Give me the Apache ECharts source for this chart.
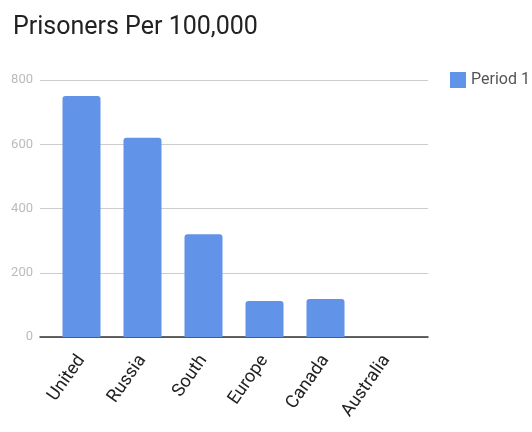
<!DOCTYPE html>
<html>
<head>
<meta charset="utf-8">
<script src="https://cdn.jsdelivr.net/npm/echarts@6/dist/echarts.min.js"></script>
<style>
  html, body { margin: 0; padding: 0; background: #ffffff; }
  #chart { width: 532px; height: 432px; }
</style>
</head>
<body>
<div id="chart"></div>
<script>
// Incarceration rate by country (prisoners per 100,000 people)
const categories = ['United', 'Russia', 'South', 'Europe', 'Canada', 'Australia'];
const period1 = [750, 620, 320, 112, 118, 0];
const yTicks = [0, 200, 400, 600, 800];
const seriesName = 'Period 1';

const yMin = yTicks[0];
const yMax = yTicks[yTicks.length - 1];
const yStep = yTicks[1] - yTicks[0];

const chart = echarts.init(document.getElementById('chart'), null, { renderer: 'canvas' });

chart.setOption({
  animation: false,
  backgroundColor: '#ffffff',
  title: {
    text: 'Prisoners Per 100,000',
    left: 8,
    top: 10,
    textStyle: { fontFamily: 'Roboto', fontSize: 25, fontWeight: 'normal', color: '#222222' }
  },
  legend: {
    data: [seriesName],
    left: 445,
    top: 67,
    itemWidth: 16,
    itemHeight: 16,
    itemGap: 10,
    icon: 'rect',
    textStyle: { fontFamily: 'Roboto', fontSize: 16, color: '#555555' }
  },
  grid: [
    // outer frame: gridlines, tick labels and baseline
    { left: 40, right: 104, top: 80, bottom: 95, containLabel: false },
    // inner band where the bars sit
    { left: 51, right: 115, top: 80, bottom: 95, containLabel: false }
  ],
  xAxis: [
    {
      gridIndex: 0, type: 'value', min: 0, max: 1,
      axisLine: { show: true, onZero: false, lineStyle: { color: '#333333', width: 1.5 } },
      axisTick: { show: false }, axisLabel: { show: false }, splitLine: { show: false }
    },
    {
      gridIndex: 1, type: 'category', data: categories,
      axisLine: { show: false }, axisTick: { show: false },
      axisLabel: {
        rotate: 55, margin: 20, interval: 0,
        fontFamily: 'Roboto', fontSize: 18, color: '#222222'
      }
    }
  ],
  yAxis: [
    {
      gridIndex: 0, type: 'value', min: yMin, max: yMax, interval: yStep,
      axisLine: { show: false }, axisTick: { show: false },
      axisLabel: { margin: 7, fontFamily: 'Roboto', fontSize: 13, color: '#bbbbbb' },
      splitLine: { show: true, lineStyle: { color: '#cccccc', width: 1 } }
    },
    {
      gridIndex: 1, type: 'value', min: yMin, max: yMax, interval: yStep,
      axisLine: { show: false }, axisTick: { show: false },
      axisLabel: { show: false }, splitLine: { show: false }
    }
  ],
  series: [
    {
      name: seriesName,
      type: 'bar',
      xAxisIndex: 1,
      yAxisIndex: 1,
      data: period1,
      barWidth: 38,
      itemStyle: { color: '#6194e8', borderRadius: [3, 3, 0, 0] },
      z: 1
    }
  ]
});
</script>
</body>
</html>
